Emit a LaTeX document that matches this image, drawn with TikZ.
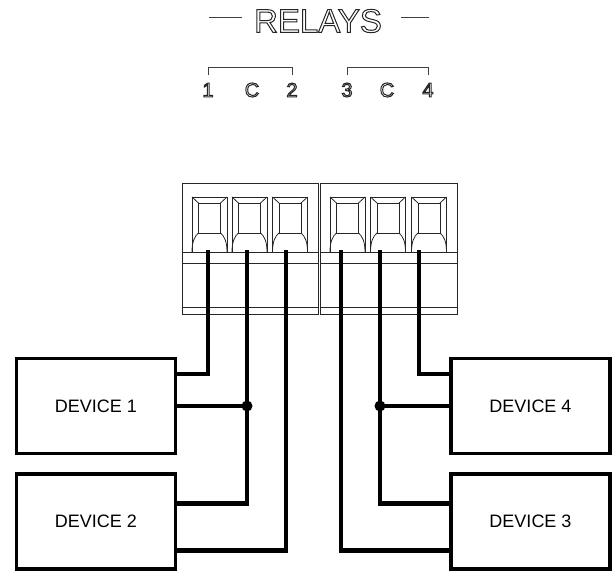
\documentclass[tikz,border=0pt]{standalone}
\usepackage{fontspec}
\setmainfont{Liberation Sans}
\usepackage{tikz}

% outlined (hollow) lettering
\newcommand{\hollow}[1]{\special{pdf:literal direct 1 Tr 1 w 0.15 0.15 0.15 RG}#1\special{pdf:literal direct 0 Tr 0 0 0 RG}}

\begin{document}
\begin{tikzpicture}[x=1pt, y=-1pt,
    wire/.style={line width=4.2pt, line join=miter},
    devbox/.style={draw, line width=3.3pt, minimum width=159pt, minimum height=95pt, font=\fontsize{18}{20}\selectfont},
    blockline/.style={draw=black!85, line width=0.8pt},
    thinline/.style={draw=black!75, line width=1pt},
    jdot/.style={circle, fill, inner sep=0pt, minimum size=11pt},
    digit/.style={inner sep=0pt, font=\fontsize{20}{20}\selectfont}]
                    \useasboundingbox (0,0) rectangle (616,576);
                    % heading
                    \node[inner sep=0pt, font=\fontsize{33}{33}\selectfont] (relays) at (318,21) {\hollow{RELAYS}};
                    \draw[thinline] ([shift={(-12pt,4pt)}]relays.west) -- ++(-33,0);
                    \draw[thinline] ([shift={(19pt,4pt)}]relays.east) -- ++(28,0);
                    \node[digit] (n1) at (208,90) {\hollow{1}};
                    \node[digit] (nc1) at (252,90) {\hollow{C}};
                    \node[digit] (n2) at (292,90) {\hollow{2}};
                    \node[digit] (n3) at (347,90) {\hollow{3}};
                    \node[digit] (nc2) at (387,90) {\hollow{C}};
                    \node[digit] (n4) at (428,90) {\hollow{4}};
                    \draw[thinline] (n1 |- 0,75) |- (n2 |- 0,67) -- (n2 |- 0,75);
                    \draw[thinline] (n3 |- 0,75) |- (n4 |- 0,67) -- (n4 |- 0,75);
                    % terminal blocks
                    \draw[blockline] (182,183) rectangle (318,314);
                    \draw[blockline] (320,183) rectangle (457,314);
                    \foreach \y in {252, 263, 307} {
                        \draw[blockline] (182,\y) -- (318,\y);
                        \draw[blockline] (320,\y) -- (457,\y);
                    }
                    \foreach \cx in {209.5, 249.5, 290, 347.5, 388, 429} {
                        \draw[blockline] (\cx-17.5,252) -- (\cx-17.5,197) -- (\cx+17.5,197) -- (\cx+17.5,252);
                        \draw[blockline] (\cx-11,203) rectangle (\cx+11,233);
                        \draw[blockline] (\cx-17.5,197) -- (\cx-11,203) (\cx+17.5,197) -- (\cx+11,203);
                        \draw[blockline] (\cx-11,233) .. controls (\cx-15,236) and (\cx-17.5,242) .. (\cx-17.5,252);
                        \draw[blockline] (\cx+11,233) .. controls (\cx+15,236) and (\cx+17.5,242) .. (\cx+17.5,252);
                    }
                    % devices
                    \node[devbox] (dev1) at (96,406) {DEVICE 1};
                    \node[devbox] (dev2) at (96,521.5) {DEVICE 2};
                    \node[devbox] (dev4) at (530.5,406) {DEVICE 4};
                    \node[devbox] (dev3) at (530.5,521.5) {DEVICE 3};
                    % wires
                    \coordinate (p1) at (208,250);
                    \coordinate (p2) at (247,250);
                    \coordinate (p3) at (286,250);
                    \coordinate (p4) at (341,250);
                    \coordinate (p5) at (380,250);
                    \coordinate (p6) at (419,250);
                    \draw[wire] (p1) |- ([yshift=32pt]dev1.east);
                    \draw[wire] (p2) |- ([yshift=18pt]dev2.east);
                    \draw[wire] (dev1.east) -- (dev1.east -| p2) node[jdot] (j1) {};
                    \draw[wire] (p3) |- ([yshift=-29pt]dev2.east);
                    \draw[wire] (p4) |- ([yshift=-29pt]dev3.west);
                    \draw[wire] (p5) |- ([yshift=18pt]dev3.west);
                    \draw[wire] (dev4.west) -- (dev4.west -| p5) node[jdot] (j2) {};
                    \draw[wire] (p6) |- ([yshift=32pt]dev4.west);
                \end{tikzpicture}
\end{document}
